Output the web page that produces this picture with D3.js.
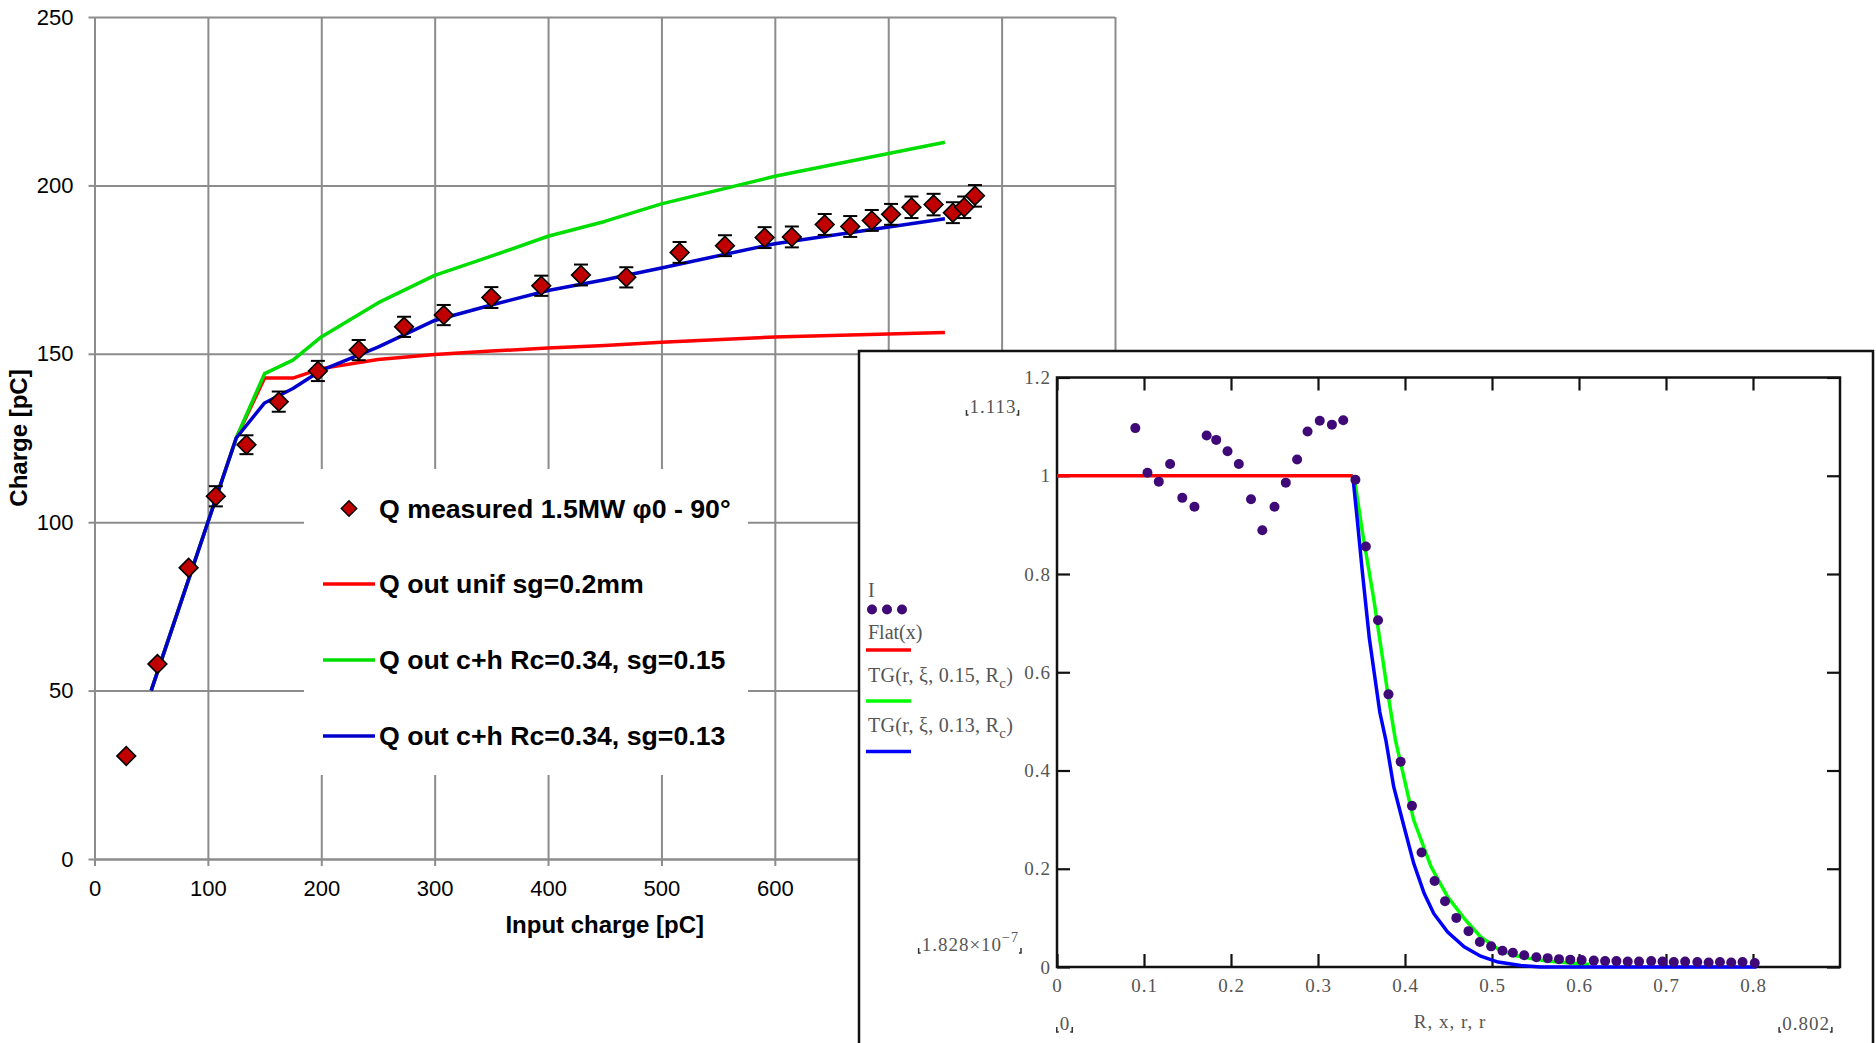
<!DOCTYPE html>
<meta charset="utf-8">

<div id="chart"></div>

<script src="https://d3js.org/d3.v7.min.js"></script>

<style type="text/css">
  body { margin: 0; background: #fff; }
  .main text { font-family: "Liberation Sans", Arial, sans-serif; fill: #000; }
  .inset text { font-family: "Liberation Serif", "Times New Roman", serif; fill: #555; }
</style>

<script>

// ---- main chart: output charge vs input charge ----
var measuredX = [28, 55.5, 83, 107, 134, 162.5, 197, 233, 273, 308, 350, 394, 429, 469,
                 516, 556, 591, 615, 644, 666.5, 685.5, 702.5, 720.5, 740, 757, 767, 776.5];
var measuredY = [30.6, 57.9, 86.5, 107.7, 123.0, 135.8, 144.9, 151.1, 158.0, 161.5, 166.7, 170.2, 173.4, 172.7,
                 180.1, 182.1, 184.5, 184.7, 188.4, 187.8, 189.6, 191.4, 193.5, 194.3, 191.9, 193.5, 196.9];
var measuredErr = [0, 0, 0, 3.0, 2.8, 3.0, 3.0, 3.0, 3.0, 3.0, 3.1, 3.0, 3.1, 3.0,
                   3.1, 3.1, 3.1, 3.1, 3.1, 3.1, 3.1, 3.1, 3.2, 3.2, 3.1, 3.2, 3.2];

var modelX = [50, 75, 100, 125, 150, 175, 200, 250, 300, 350, 400, 450, 500, 600, 750];
var unifY  = [50, 75, 100, 125, 142.8, 142.8, 145.6, 148.3, 149.8, 150.8, 151.7, 152.5, 153.4, 155.0, 156.3];
var ch15Y  = [50, 75, 100, 125, 144.1, 148.1, 155.0, 165.1, 173.3, 179.0, 184.9, 189.3, 194.5, 202.7, 212.8];
var ch13Y  = [50, 75, 100, 125, 135.4, 139.7, 145.1, 152.0, 159.9, 164.5, 168.8, 172.0, 175.5, 182.7, 190.1];

var xTicks = [0, 100, 200, 300, 400, 500, 600, 700, 800, 900];
var yTicks = [0, 50, 100, 150, 200, 250];

var legendLabels = ["Q measured 1.5MW \u03c60 - 90\u00b0", "Q out unif sg=0.2mm",
                    "Q out c+h Rc=0.34, sg=0.15", "Q out c+h Rc=0.34, sg=0.13"];
var lineColors = ["#ff0000", "#00dd00", "#0000cc"];

// ---- inset: transverse profile (Mathcad) ----
var profR = [0.090, 0.104, 0.117, 0.130, 0.144, 0.158, 0.172, 0.183, 0.196, 0.209, 0.223, 0.236, 0.250, 0.263,
             0.276, 0.288, 0.302, 0.316, 0.329, 0.343, 0.355, 0.369, 0.381, 0.395, 0.408, 0.419, 0.434, 0.446,
             0.459, 0.473, 0.486, 0.499, 0.512, 0.524, 0.537, 0.551, 0.564, 0.577, 0.590, 0.603, 0.617, 0.630,
             0.643, 0.656, 0.669, 0.683, 0.696, 0.709, 0.722, 0.736, 0.749, 0.762, 0.775, 0.788, 0.802];
var profI = [1.097, 1.006, 0.988, 1.024, 0.955, 0.937, 1.082, 1.073, 1.050, 1.024, 0.952, 0.889, 0.937, 0.986,
             1.033, 1.090, 1.112, 1.104, 1.113, 0.992, 0.856, 0.706, 0.555, 0.418, 0.328, 0.233, 0.175, 0.134,
             0.100, 0.073, 0.051, 0.042, 0.033, 0.029, 0.024, 0.020, 0.018, 0.016, 0.015, 0.014, 0.013, 0.012,
             0.012, 0.011, 0.011, 0.012, 0.011, 0.010, 0.011, 0.010, 0.009, 0.010, 0.009, 0.010, 0.008];

var flatR = [0, 0.340];
var flatY = [1, 1];

var tg15R = [0.340, 0.343, 0.351, 0.364, 0.380, 0.389, 0.410, 0.430, 0.449, 0.468, 0.487, 0.507, 0.525, 0.545, 0.563, 0.583, 0.612];
var tg15Y = [1.000, 0.981, 0.886, 0.750, 0.560, 0.462, 0.299, 0.204, 0.143, 0.099, 0.061, 0.037, 0.024, 0.017, 0.012, 0.009, 0.005];

var tg13R = [0.340, 0.345, 0.351, 0.359, 0.371, 0.378, 0.387, 0.399, 0.410, 0.422, 0.433, 0.449, 0.468, 0.487, 0.507, 0.533, 0.556, 0.804];
var tg13Y = [1.000, 0.913, 0.804, 0.669, 0.519, 0.462, 0.367, 0.285, 0.211, 0.150, 0.109, 0.071, 0.041, 0.022, 0.010, 0.003, 0.000, 0.000];

var insetXTicks = [0, 0.1, 0.2, 0.3, 0.4, 0.5, 0.6, 0.7, 0.8];
var insetYTicks = [0, 0.2, 0.4, 0.6, 0.8, 1, 1.2];

var W = 1876, H = 1043;

var svg = d3.select("#chart")
  .append("svg")
    .attr("width", W)
    .attr("height", H)
    .style("background", "#fff");

// ================= main chart =================
var main = svg.append("g").attr("class", "main");

var x = d3.scaleLinear().domain([0, 900]).range([94.5, 1115]);
var y = d3.scaleLinear().domain([0, 250]).range([859, 17]);
var gridCol = "#8c8c8c";

// grid
main.append("g")
  .attr("transform", "translate(0," + y(0) + ")")
  .call(d3.axisBottom(x).tickValues(xTicks).tickSize(-(y(0) - y(250))).tickSizeOuter(0).tickFormat(""))
  .call(function(g) { g.select(".domain").remove(); })
  .selectAll("line").attr("stroke", gridCol).attr("stroke-width", 2);

main.append("g")
  .attr("transform", "translate(" + x(0) + ",0)")
  .call(d3.axisLeft(y).tickValues(yTicks).tickSize(-(x(900) - x(0))).tickSizeOuter(0).tickFormat(""))
  .call(function(g) { g.select(".domain").remove(); })
  .selectAll("line").attr("stroke", gridCol).attr("stroke-width", 2);

// axes with outside ticks + labels
var xAx = main.append("g")
  .attr("transform", "translate(0," + y(0) + ")")
  .call(d3.axisBottom(x).tickValues(xTicks).tickSize(7).tickSizeOuter(0).tickPadding(14).tickFormat(d3.format("d")));
var yAx = main.append("g")
  .attr("transform", "translate(" + x(0) + ",0)")
  .call(d3.axisLeft(y).tickValues(yTicks).tickSize(6).tickSizeOuter(0).tickPadding(15).tickFormat(d3.format("d")));

[xAx, yAx].forEach(function(g) {
  g.select(".domain").attr("stroke", gridCol).attr("stroke-width", 2);
  g.selectAll("line").attr("stroke", gridCol).attr("stroke-width", 2);
  g.selectAll("text").attr("font-size", 22).attr("font-family", "Liberation Sans, Arial, sans-serif").attr("fill", "#000");
});

// axis titles
main.append("text")
  .attr("transform", "translate(18," + (y(0) + y(250)) / 2 + ")rotate(-90)")
  .attr("text-anchor", "middle")
  .attr("dominant-baseline", "central")
  .attr("font-size", 24)
  .attr("font-weight", "bold")
  .text("Charge [pC]");

main.append("text")
  .attr("x", (x(0) + x(900)) / 2)
  .attr("y", 924)
  .attr("text-anchor", "middle")
  .attr("dominant-baseline", "central")
  .attr("font-size", 24)
  .attr("font-weight", "bold")
  .text("Input charge [pC]");

// model curves
var line = d3.line()
  .x(function(d) { return x(d[0]); })
  .y(function(d) { return y(d[1]); });

[unifY, ch15Y, ch13Y].forEach(function(ys, i) {
  main.append("path")
    .datum(modelX.map(function(v, j) { return [v, ys[j]]; }))
    .attr("fill", "none")
    .attr("stroke", lineColors[i])
    .attr("stroke-width", 3.5)
    .attr("stroke-linejoin", "round")
    .attr("d", line);
});

// measured points with error bars
var pts = measuredX.map(function(v, i) { return {x: v, y: measuredY[i], e: measuredErr[i]}; });

var eb = main.append("g").selectAll("g")
  .data(pts.filter(function(d) { return d.e > 0; }))
  .enter().append("g")
    .attr("stroke", "#000")
    .attr("stroke-width", 2);
eb.append("line")
  .attr("x1", function(d) { return x(d.x); }).attr("x2", function(d) { return x(d.x); })
  .attr("y1", function(d) { return y(d.y - d.e); }).attr("y2", function(d) { return y(d.y + d.e); });
eb.append("line")
  .attr("x1", function(d) { return x(d.x) - 7; }).attr("x2", function(d) { return x(d.x) + 7; })
  .attr("y1", function(d) { return y(d.y + d.e); }).attr("y2", function(d) { return y(d.y + d.e); });
eb.append("line")
  .attr("x1", function(d) { return x(d.x) - 7; }).attr("x2", function(d) { return x(d.x) + 7; })
  .attr("y1", function(d) { return y(d.y - d.e); }).attr("y2", function(d) { return y(d.y - d.e); });

var diamond = d3.symbol().type(d3.symbolSquare).size(175);

main.append("g").selectAll("path")
  .data(pts)
  .enter().append("path")
    .attr("d", diamond)
    .attr("transform", function(d) { return "translate(" + x(d.x) + "," + y(d.y) + ")rotate(45)"; })
    .attr("fill", "#c00000")
    .attr("stroke", "#000")
    .attr("stroke-width", 1.6);

// legend
var leg = main.append("g");
leg.append("rect")
  .attr("x", 304).attr("y", 469).attr("width", 444).attr("height", 306)
  .attr("fill", "#fff");

var rowY = [508.5, 584, 660, 736];
leg.append("path")
  .attr("d", d3.symbol().type(d3.symbolSquare).size(120))
  .attr("transform", "translate(349," + rowY[0] + ")rotate(45)")
  .attr("fill", "#c00000").attr("stroke", "#000").attr("stroke-width", 1.4);
lineColors.forEach(function(c, i) {
  leg.append("line")
    .attr("x1", 323).attr("x2", 375)
    .attr("y1", rowY[i + 1]).attr("y2", rowY[i + 1])
    .attr("stroke", c).attr("stroke-width", 3.5);
});
leg.selectAll("text")
  .data(legendLabels)
  .enter().append("text")
    .attr("x", 379)
    .attr("y", function(d, i) { return rowY[i]; })
    .attr("dominant-baseline", "central")
    .attr("font-size", 26.7)
    .attr("font-weight", "bold")
    .text(function(d) { return d; });

// ================= inset =================
var inset = svg.append("g").attr("class", "inset");

inset.append("rect")
  .attr("x", 859).attr("y", 351).attr("width", 1014).attr("height", 740)
  .attr("fill", "#fff").attr("stroke", "#111").attr("stroke-width", 2.5);

var ix = d3.scaleLinear().domain([0, 0.9]).range([1057, 1840]);
var iy = d3.scaleLinear().domain([0, 1.2]).range([967, 377.5]);

var fmt = d3.format("~g");

function styleInsetAxis(g) {
  g.select(".domain").remove();
  g.selectAll("line").attr("stroke", "#111").attr("stroke-width", 2.2);
  g.selectAll("text")
    .attr("font-size", 19)
    .attr("font-family", "Liberation Serif, serif")
    .attr("letter-spacing", 1)
    .attr("fill", "#555");
}

inset.append("g")
  .attr("transform", "translate(0," + iy(0) + ")")
  .call(d3.axisBottom(ix).tickValues(insetXTicks).tickSize(-13).tickSizeOuter(0).tickPadding(12).tickFormat(fmt))
  .call(styleInsetAxis);
inset.append("g")
  .attr("transform", "translate(0," + iy(1.2) + ")")
  .call(d3.axisTop(ix).tickValues(insetXTicks).tickSize(-13).tickSizeOuter(0).tickFormat(""))
  .call(styleInsetAxis);
inset.append("g")
  .attr("transform", "translate(" + ix(0) + ",0)")
  .call(d3.axisLeft(iy).tickValues(insetYTicks).tickSize(-13).tickSizeOuter(0).tickPadding(6).tickFormat(fmt))
  .call(styleInsetAxis);
inset.append("g")
  .attr("transform", "translate(" + ix(0.9) + ",0)")
  .call(d3.axisRight(iy).tickValues(insetYTicks).tickSize(-13).tickSizeOuter(0).tickFormat(""))
  .call(styleInsetAxis);

inset.append("rect")
  .attr("x", ix(0)).attr("y", iy(1.2))
  .attr("width", ix(0.9) - ix(0)).attr("height", iy(0) - iy(1.2))
  .attr("fill", "none").attr("stroke", "#111").attr("stroke-width", 2.5);

var iline = d3.line()
  .x(function(d) { return ix(d[0]); })
  .y(function(d) { return iy(d[1]); });

function pairs(a, b) { return a.map(function(v, i) { return [v, b[i]]; }); }

[[flatR, flatY, "#ff0000"], [tg15R, tg15Y, "#00ff00"], [tg13R, tg13Y, "#0000ff"]].forEach(function(s) {
  inset.append("path")
    .datum(pairs(s[0], s[1]))
    .attr("fill", "none")
    .attr("stroke", s[2])
    .attr("stroke-width", 3.5)
    .attr("d", iline);
});

var purple = "#3f0a78";
inset.append("g").selectAll("circle")
  .data(pairs(profR, profI))
  .enter().append("circle")
    .attr("cx", function(d) { return ix(d[0]); })
    .attr("cy", function(d) { return iy(d[1]); })
    .attr("r", 5)
    .attr("fill", purple);

// inset legend
var ileg = inset.append("g");
ileg.append("text").attr("x", 868).attr("y", 597).attr("font-size", 20).attr("fill", "#444").text("I");
[872, 887, 902].forEach(function(cx) {
  ileg.append("circle").attr("cx", cx).attr("cy", 609.5).attr("r", 5).attr("fill", purple);
});
ileg.append("text").attr("x", 868).attr("y", 639).attr("font-size", 20).attr("fill", "#444").text("Flat(x)");
ileg.append("line").attr("x1", 866).attr("x2", 911).attr("y1", 650).attr("y2", 650)
  .attr("stroke", "#ff0000").attr("stroke-width", 3.5);

function tgLabel(yy, sg) {
  var t = ileg.append("text").attr("x", 868).attr("y", yy).attr("font-size", 20)
    .attr("letter-spacing", 0.3).attr("fill", "#444");
  t.append("tspan").text("TG(r, \u03be, " + sg + ", R");
  t.append("tspan").attr("font-size", 15).attr("dy", 6).text("c");
  t.append("tspan").attr("dy", -6).text(")");
}
tgLabel(682, "0.15");
ileg.append("line").attr("x1", 866).attr("x2", 911).attr("y1", 701).attr("y2", 701)
  .attr("stroke", "#00ff00").attr("stroke-width", 3.5);
tgLabel(732, "0.13");
ileg.append("line").attr("x1", 866).attr("x2", 911).attr("y1", 751.5).attr("y2", 751.5)
  .attr("stroke", "#0000ff").attr("stroke-width", 3.5);

// Mathcad range placeholders
function limitLabel(xx, yy, anchor, build) {
  var t = inset.append("text").attr("x", xx).attr("y", yy).attr("font-size", 19)
    .attr("text-anchor", anchor).attr("letter-spacing", 1).attr("fill", "#555");
  build(t);
  var b = t.node().getBBox();
  var by = b.y + b.height - 3;
  inset.append("path")
    .attr("d", "M" + (b.x - 3) + "," + (by - 4) + "v5h2 M" + (b.x + b.width + 2) + "," + (by - 4) + "v5h-2")
    .attr("fill", "none").attr("stroke", "#333").attr("stroke-width", 1.5);
}
limitLabel(993, 413, "middle", function(t) { t.text("1.113"); });
limitLabel(1019, 951, "end", function(t) {
  t.append("tspan").text("1.828\u00d710");
  t.append("tspan").attr("font-size", 14).attr("dy", -9).text("\u22127");
});
limitLabel(1065, 1030, "middle", function(t) { t.text("0"); });
limitLabel(1806, 1030, "middle", function(t) { t.text("0.802"); });

inset.append("text")
  .attr("x", 1450).attr("y", 1028)
  .attr("text-anchor", "middle")
  .attr("font-size", 19)
  .attr("letter-spacing", 1)
  .attr("fill", "#555")
  .text("R, x, r, r");

</script>
